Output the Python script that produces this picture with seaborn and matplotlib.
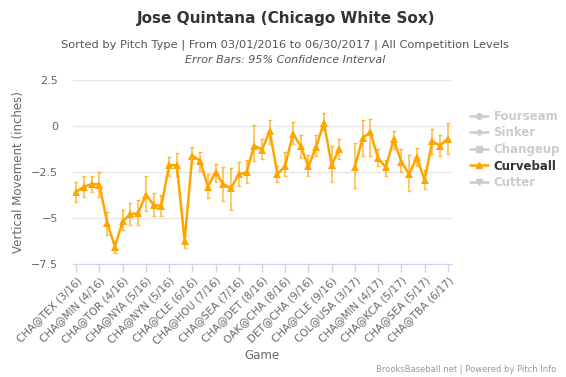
import numpy as np
import pandas as pd
import matplotlib
matplotlib.use("Agg")
import matplotlib.pyplot as plt
from matplotlib.lines import Line2D
import seaborn as sns

# curveball vertical movement per game (index 35 = no curveballs thrown)
movement = [-3.57, -3.31, -3.15, -3.18, -5.27, -6.55, -5.18, -4.79, -4.74, -3.73,
            -4.28, -4.35, -2.12, -2.14, -6.24, -1.61, -1.88, -3.29, -2.52, -3.16,
            -3.38, -2.62, -2.52, -1.06, -1.28, -0.29, -2.62, -2.16, -0.42, -1.10,
            -2.20, -1.12, 0.18, -2.12, -1.24, np.nan, -2.21, -0.66, -0.33, -1.76,
            -2.25, -0.73, -1.94, -2.62, -1.70, -2.93, -0.84, -1.06, -0.70]
ci_high = [-3.02, -2.74, -2.69, -2.49, -4.66, -6.27, -4.55, -4.19, -4.04, -2.74,
           -3.62, -3.73, -1.66, -1.45, -6.00, -1.15, -1.39, -2.63, -2.07, -2.25,
           -2.29, -1.98, -1.85, 0.04, -0.73, 0.31, -2.16, -1.43, 0.22, -0.48,
           -1.57, -0.51, 0.68, -1.10, -0.73, np.nan, -0.91, 0.31, 0.37, -1.24,
           -1.83, -0.26, -1.24, -1.57, -1.21, -2.38, -0.15, -0.51, 0.18]
ci_low = [-4.12, -3.84, -3.59, -3.84, -5.91, -6.91, -5.67, -5.36, -5.36, -4.61,
          -4.90, -4.90, -2.71, -2.74, -6.64, -2.03, -2.43, -3.90, -3.07, -4.08,
          -4.54, -3.26, -3.11, -1.88, -1.79, -0.97, -3.07, -2.74, -0.97, -1.76,
          -2.74, -1.65, -0.24, -3.07, -1.79, np.nan, -3.38, -1.65, -1.65, -2.20,
          -2.71, -1.24, -2.52, -3.53, -2.16, -3.44, -1.52, -1.65, -1.52]

tick_labels = ["CHA@TEX (3/16)", "CHA@MIN (4/16)", "CHA@TOR (4/16)", "CHA@NYA (5/16)",
               "CHA@NYN (5/16)", "CHA@CLE (6/16)", "CHA@HOU (7/16)", "CHA@SEA (7/16)",
               "CHA@DET (8/16)", "OAK@CHA (8/16)", "DET@CHA (9/16)", "CHA@CLE (9/16)",
               "COL@USA (3/17)", "CHA@MIN (4/17)", "CHA@KCA (5/17)", "CHA@SEA (5/17)",
               "CHA@TBA (6/17)"]
pitch_types = ["Fourseam", "Sinker", "Changeup", "Curveball", "Cutter"]

orange = "#ffa500"
grey = "#cccccc"

df = pd.DataFrame({"game": np.arange(len(movement)), "move": movement,
                   "hi": ci_high, "lo": ci_low})
df["segment"] = (df["move"].isna()).cumsum()
df = df.dropna()

sns.set_style("white")
fig = plt.figure(figsize=(5.66, 3.77), dpi=100)
ax = fig.add_axes([0.1285, 0.2997, 0.6695, 0.4881])

ax.errorbar(df["game"], df["move"], yerr=[df["move"] - df["lo"], df["hi"] - df["move"]],
            fmt="none", ecolor=orange, alpha=0.7, elinewidth=1.2, capsize=1.3, zorder=2)
sns.lineplot(data=df, x="game", y="move", units="segment", estimator=None, ax=ax,
             color=orange, linewidth=1.8, marker="^", markersize=5.5,
             markeredgewidth=0, zorder=3)

ax.set_xlim(-0.45, 48.5)
ax.set_ylim(-7.5, 2.5)
ax.set_yticks([2.5, 0, -2.5, -5, -7.5])
ax.set_yticklabels(["2.5", "0", "\u22122.5", "\u22125", "\u22127.5"])
ax.set_xticks(range(0, 49, 3))
ax.set_xticklabels(tick_labels, rotation=45, ha="right", rotation_mode="anchor")
ax.grid(axis="y", color="#e6e6e6", linewidth=1)
for s in ["top", "right", "left"]:
    ax.spines[s].set_visible(False)
ax.spines["bottom"].set_color("#ccd6eb")
ax.tick_params(axis="x", colors="#ccd6eb", length=6, width=1, labelsize=7.5,
               labelcolor="#666666", pad=2, direction="out", bottom=True)
ax.tick_params(axis="y", length=0, labelsize=8, labelcolor="#666666", pad=10.5)
ax.set_xlabel("Game", fontsize=8.5, color="#666666", labelpad=2)
ax.set_ylabel("Vertical Movement (inches)", fontsize=8.5, color="#666666", labelpad=4)

fig.text(0.505, 0.952, "Jose Quintana (Chicago White Sox)", ha="center", va="center",
         fontsize=11, fontweight="bold", color="#333333")
fig.text(0.503, 0.881, "Sorted by Pitch Type | From 03/01/2016 to 06/30/2017 | All Competition Levels",
         ha="center", va="center", fontsize=8.2, color="#555555")
fig.text(0.503, 0.842, "Error Bars: 95% Confidence Interval", ha="center", va="center",
         fontsize=8, style="italic", color="#555555")
fig.text(0.982, 0.021, "BrooksBaseball.net | Powered by Pitch Info", ha="right", va="center",
         fontsize=6, color="#999999")

markers = ["o", "D", "s", "^", "v"]
handles = []
for name, m in zip(pitch_types, markers):
    c = orange if name == "Curveball" else grey
    handles.append(Line2D([0], [0], color=c, marker=m, markersize=4 if m != "D" else 3,
                          linewidth=1.8))
leg = ax.legend(handles, pitch_types, loc="upper left", bbox_to_anchor=(1.02, 0.895),
                frameon=False, handlelength=1.5, handletextpad=0.5, labelspacing=0.3,
                prop={"weight": "bold", "size": 8.5})
for t, name in zip(leg.get_texts(), pitch_types):
    t.set_color("#333333" if name == "Curveball" else grey)

fig.savefig("out.png", dpi=100)
